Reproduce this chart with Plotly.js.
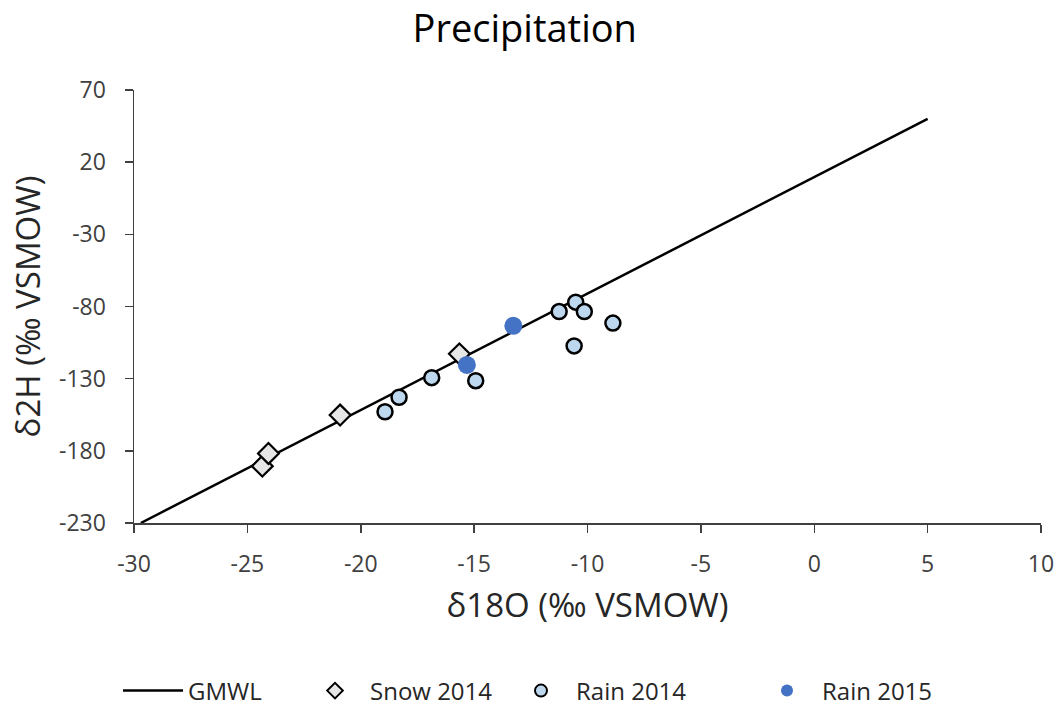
<!DOCTYPE html>
<html>
<head>
<meta charset="utf-8">
<script src="https://cdn.plot.ly/plotly-3.0.1.min.js"></script>
<style>html,body{margin:0;padding:0;background:#fff;}#chart{width:1058px;height:708px;}</style>
</head>
<body>
<div id="chart"></div>
<script>
// GMWL line end points
const gmwlX = [-29.7, 5];
const gmwlY = [-230, 50];

// Snow 2014
const snowX = [-24.34, -24.07, -20.91, -15.65];
const snowY = [-190.6, -181.8, -155.2, -112.8];

// Rain 2014
const rain14X = [-18.93, -18.31, -16.87, -14.93, -11.25, -10.52, -10.14, -8.88, -10.59];
const rain14Y = [-152.9, -142.9, -129.3, -131.4, -83.5, -77.0, -83.5, -91.5, -107.3];

// Rain 2015
const rain15X = [-15.32, -13.27];
const rain15Y = [-120.5, -93.4];

const xTicks = [-30, -25, -20, -15, -10, -5, 0, 5, 10];
const yTicks = [70, 20, -30, -80, -130, -180, -230];

const font = "'Open Sans', 'Noto Sans', sans-serif";

const traces = [
  {x: gmwlX, y: gmwlY, mode: 'lines', name: 'GMWL', legend: 'legend',
   line: {color: '#000000', width: 2.5}},
  {x: snowX, y: snowY, mode: 'markers', name: 'Snow 2014', legend: 'legend2',
   marker: {symbol: 'diamond', size: 16, color: '#E7E6E6', line: {color: '#000000', width: 2.2}}},
  {x: rain14X, y: rain14Y, mode: 'markers', name: 'Rain 2014', legend: 'legend3',
   marker: {symbol: 'circle', size: 15, color: '#BDD7EE', line: {color: '#000000', width: 2.5}}},
  {x: rain15X, y: rain15Y, mode: 'markers', name: 'Rain 2015', legend: 'legend4',
   marker: {symbol: 'circle', size: 18, color: '#4472C4', line: {width: 0}}}
];

function leg(px, sizing) {
  return {orientation: 'h', xref: 'container', yref: 'container',
          x: px / 1058, xanchor: 'left', y: (708 - 691) / 708, yanchor: 'middle',
          font: {family: font, size: 24, color: '#262626'}, itemsizing: sizing,
          itemwidth: 60, bgcolor: 'rgba(0,0,0,0)', borderwidth: 0};
}

const layout = {
  width: 1058, height: 708,
  paper_bgcolor: '#ffffff', plot_bgcolor: '#ffffff',
  margin: {l: 134, r: 17, t: 90, b: 185},
  font: {family: font, color: '#000000'},
  title: {text: 'Precipitation', font: {family: font, size: 38, color: '#000000'},
          x: 0.496, xanchor: 'center', xref: 'container', y: 0.96, yanchor: 'middle'},
  xaxis: {
    range: [-30, 10], tickvals: xTicks, ticktext: xTicks.map(String),
    showgrid: false, zeroline: false, showline: true, linecolor: '#404040', linewidth: 1.5,
    ticks: 'outside', ticklen: 8, tickcolor: '#404040', tickwidth: 1.5,
    ticklabelstandoff: 12,
    tickfont: {family: font, size: 23, color: '#404040'},
    title: {text: 'δ18O (‰ VSMOW)', font: {family: font, size: 33, color: '#262626'}, standoff: 16}
  },
  yaxis: {
    range: [-230, 70], tickvals: yTicks, ticktext: yTicks.map(String),
    showgrid: false, zeroline: false, showline: true, linecolor: '#404040', linewidth: 1.5,
    ticks: 'outside', ticklen: 8, tickcolor: '#404040', tickwidth: 1.5,
    ticklabelstandoff: 14,
    tickfont: {family: font, size: 23, color: '#404040'},
    title: {text: 'δ2H (‰ VSMOW)', font: {family: font, size: 33, color: '#262626'}, standoff: 8}
  },
  showlegend: true,
  legend: leg(118, 'trace'),
  legend2: leg(300, 'constant'),
  legend3: leg(506, 'constant'),
  legend4: leg(752, 'constant')
};

Plotly.newPlot('chart', traces, layout, {displayModeBar: false, staticPlot: true});
</script>
</body>
</html>
